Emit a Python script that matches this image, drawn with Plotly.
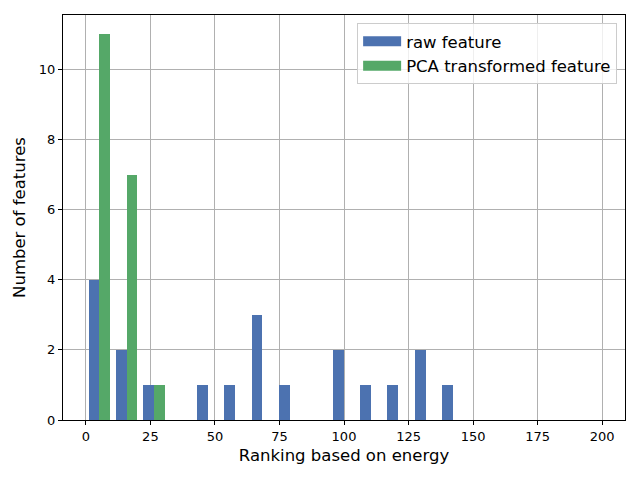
import plotly.graph_objects as go

# histogram: 19 bins spanning 0..200 (left edges below, width 200/19)
bin_left = [0.0, 10.53, 21.05, 31.58, 42.11, 52.63, 63.16, 73.68, 84.21, 94.74,
            105.26, 115.79, 126.32, 136.84, 147.37, 157.89, 168.42, 178.95, 189.47]
bin_width = 200 / 19
raw_counts = [4, 2, 1, 0, 1, 1, 3, 1, 0, 2, 1, 1, 2, 1, 0, 0, 0, 0, 0]
pca_counts = [11, 7, 1, 0, 0, 0, 0, 0, 0, 0, 0, 0, 0, 0, 0, 0, 0, 0, 0]
x_ticks = [0, 25, 50, 75, 100, 125, 150, 175, 200]
y_ticks = [0, 2, 4, 6, 8, 10]

BLUE = "#4C72B0"
GREEN = "#55A868"

# matplotlib-style side by side bars: 80% of the bin split in two
fig = go.Figure()
fig.add_trace(go.Bar(x=bin_left, y=raw_counts, width=0.4 * bin_width, offset=0.1 * bin_width,
                     marker=dict(color=BLUE, line=dict(width=0)),
                     name="raw feature", showlegend=False))
fig.add_trace(go.Bar(x=bin_left, y=pca_counts, width=0.4 * bin_width, offset=0.5 * bin_width,
                     marker=dict(color=GREEN, line=dict(width=0)),
                     name="PCA transformed feature", showlegend=False))

# legend entries drawn as wide patches, like matplotlib's
for name, col in [("raw feature", BLUE), ("PCA transformed feature", GREEN)]:
    fig.add_trace(go.Scatter(x=[None], y=[None], mode="lines", name=name,
                             line=dict(color=col, width=12)))

axis_style = dict(showgrid=True, gridcolor="#b0b0b0", gridwidth=1,
                  showline=True, linecolor="black", linewidth=1, mirror=True,
                  ticks="outside", ticklen=4, tickcolor="black", zeroline=False,
                  automargin=False, layer="above traces",
                  tickfont=dict(size=13, color="black"))

# page body adds an 8px offset, so the figure is a bit smaller
fig.update_layout(
    width=632, height=472,
    margin=dict(l=55, r=15, t=7, b=60),
    plot_bgcolor="white", paper_bgcolor="white",
    font=dict(family="DejaVu Sans", color="black"),
    bargap=0, barmode="overlay",
    showlegend=True,
    legend=dict(x=0.986, y=0.98, xanchor="right", yanchor="top",
                bgcolor="rgba(255,255,255,0.8)", bordercolor="#cccccc", borderwidth=1,
                font=dict(size=16.5), tracegroupgap=0, itemwidth=38),
    xaxis=dict(range=[-8.85, 208.85], tickvals=x_ticks,
               title=dict(text="Ranking based on energy", font=dict(size=16.5), standoff=6),
               **axis_style),
    yaxis=dict(range=[0, 11.55], tickvals=y_ticks,
               title=dict(text="Number of features", font=dict(size=16.5), standoff=9),
               **axis_style),
)

fig.write_html("out.html")
